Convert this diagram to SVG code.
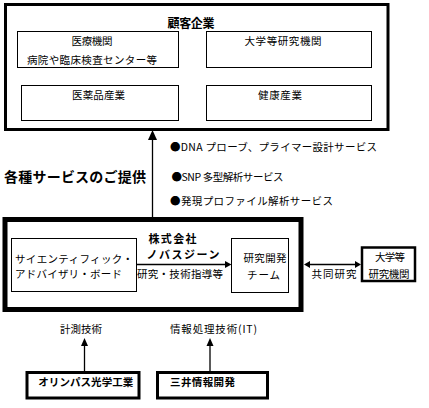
<svg xmlns="http://www.w3.org/2000/svg" width="429" height="408" viewBox="0 0 429 408">
<style>
text{font-family:"Noto Sans CJK JP","Noto Sans CJK SC",sans-serif;fill:#000;dominant-baseline:central}
.s{font-size:10.5px}
.b{font-size:12px;font-weight:bold}
.m{font-size:11px;font-weight:bold}
.bb{font-size:10.5px;font-weight:bold}
.big{font-size:14px;font-weight:bold}
.box{fill:#fff;stroke:#000;stroke-width:1}
.ln{stroke:#000;stroke-width:1.3;fill:none}
.ah{fill:#000}
</style>
<rect width="429" height="408" fill="#fff"/>
<g id="customer">
<rect x="5.5" y="4.5" width="382.5" height="125" fill="#fff" stroke="#000" stroke-width="3"/>
<text class="b" x="191" y="22" text-anchor="middle" textLength="47">顧客企業</text>
</g>
<g id="medical">
<rect class="box" x="17.5" y="31.5" width="161" height="36"/>
<text class="s" x="92" y="40.7" text-anchor="middle" textLength="41">医療機関</text>
<text class="s" x="92" y="59.3" text-anchor="middle" textLength="130">病院や臨床検査センター等</text>
</g>
<g id="univ-top">
<rect class="box" x="206.5" y="31.5" width="165" height="36"/>
<text class="s" x="283" y="40.7" text-anchor="middle" textLength="77">大学等研究機関</text>
</g>
<g id="pharma">
<rect class="box" x="21.5" y="85.5" width="157" height="35"/>
<text class="s" x="98.5" y="94.3" text-anchor="middle" textLength="53">医薬品産業</text>
</g>
<g id="health">
<rect class="box" x="206.5" y="85.5" width="165" height="35"/>
<text class="s" x="280" y="94.3" text-anchor="middle" textLength="44">健康産業</text>
</g>
<g id="services">
<text class="big" x="4" y="176" textLength="142">各種サービスのご提供</text>
<text class="s" x="170" y="146.7" textLength="207">●DNA プローブ、プライマー設計サービス</text>
<text class="s" x="171.5" y="176.7" textLength="112">●SNP 多型解析サービス</text>
<text class="s" x="170" y="200.7" textLength="163">●発現プロファイル解析サービス</text>
</g>
<g id="novasgene">
<rect x="5" y="219.5" width="296" height="90" fill="#fff" stroke="#000" stroke-width="5"/>
<text class="m" x="172.5" y="237.5" text-anchor="middle" textLength="48">株式会社</text>
<text class="m" x="183" y="254" text-anchor="middle" textLength="73">ノバスジーン</text>
<text class="s" x="137" y="273.3" textLength="86">研究・技術指導等</text>
</g>
<g id="sab">
<rect class="box" x="11.5" y="238.5" width="125" height="53"/>
<text class="s" x="15" y="258.3" textLength="118">サイエンティフィック・</text>
<text class="s" x="15" y="273.3" textLength="107">アドバイザリ・ボード</text>
</g>
<g id="rnd">
<rect class="box" x="231.5" y="238.5" width="57" height="54"/>
<text class="s" x="265" y="257" text-anchor="middle" textLength="43">研究開発</text>
<text class="s" x="263.5" y="274" text-anchor="middle" textLength="33">チーム</text>
</g>
<g id="univ">
<rect x="362" y="247.5" width="53" height="33.5" fill="#fff" stroke="#000" stroke-width="2.5"/>
<text class="s" x="390" y="256.7" text-anchor="middle" textLength="30">大学等</text>
<text class="s" x="389" y="273.3" text-anchor="middle" textLength="41">研究機関</text>
</g>
<g id="olympus">
<rect x="27" y="372.5" width="112" height="25.5" fill="#fff" stroke="#000" stroke-width="3"/>
<text class="bb" x="38.3" y="381.7" textLength="95">オリンパス光学工業</text>
</g>
<g id="mitsui">
<rect x="157.5" y="372.5" width="110" height="25.5" fill="#fff" stroke="#000" stroke-width="3"/>
<text class="bb" x="170" y="381.7" textLength="65">三井情報開発</text>
</g>
<g id="labels">
<text class="s" x="60" y="328.3" textLength="42">計測技術</text>
<text class="s" x="170" y="328.3" textLength="87">情報処理技術(IT)</text>
<text class="s" x="334" y="273.3" text-anchor="middle" textLength="45">共同研究</text>
</g>
<g id="connectors">
<line class="ln" x1="152.5" y1="217" x2="152.5" y2="139"/>
<polygon class="ah" points="152.5,130 148,140 157,140"/>
<line class="ln" x1="136.5" y1="264.5" x2="226" y2="264.5"/>
<polygon class="ah" points="231.5,264.5 225,261 225,268"/>
<line class="ln" x1="308" y1="264.5" x2="357" y2="264.5"/>
<polygon class="ah" points="304,264.5 310,261 310,268"/>
<polygon class="ah" points="361,264.5 355,261 355,268"/>
<line class="ln" x1="84.5" y1="371" x2="84.5" y2="345"/>
<polygon class="ah" points="84.5,338 81,346 88,346"/>
<line class="ln" x1="210" y1="371" x2="210" y2="345"/>
<polygon class="ah" points="210,338 206.5,346 213.5,346"/>
</g>
</svg>
